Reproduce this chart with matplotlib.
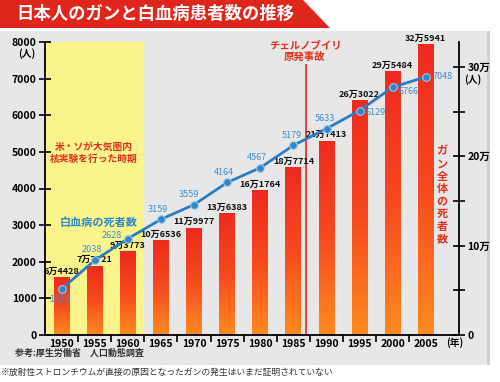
import numpy as np
import matplotlib
matplotlib.use('Agg')
import matplotlib.pyplot as plt
from matplotlib.patches import Rectangle, Polygon
from matplotlib.colors import LinearSegmentedColormap

plt.rcParams['font.family'] = ['Noto Sans CJK JP', 'DejaVu Sans']
plt.rcParams['font.weight'] = 'bold'

years = ['1950', '1955', '1960', '1965', '1970', '1975', '1980', '1985',
         '1990', '1995', '2000', '2005']
cancer_deaths = [64428, 77721, 93773, 106536, 119977, 136383, 161764, 187714,
                 217413, 263022, 295484, 325941]
cancer_labels = ['6万4428', '7万7721', '9万3773', '10万6536', '11万9977', '13万6383',
                 '16万1764', '18万7714', '21万7413', '26万3022', '29万5484', '32万5941']
leukemia_deaths = [1255, 2038, 2628, 3159, 3559, 4164, 4567, 5179, 5633, 6129, 6766, 7048]
left_ticks = [0, 1000, 2000, 3000, 4000, 5000, 6000, 7000, 8000]
right_ticks = [0, 100000, 200000, 300000]
right_minor = [50000, 150000, 250000]
right_tick_labels = ['0', '10万', '20万', '30万']

W, H = 500, 382
fig = plt.figure(figsize=(5, 3.82), dpi=100)
fig.patch.set_facecolor('white')


def fx(x):
    return x / W


def fy(y):
    return 1 - y / H


# gray panel and banner
fig.patches.append(Rectangle((0, fy(365)), fx(489), fy(31) - fy(365), transform=fig.transFigure,
                             facecolor='#e7e7e7', edgecolor='none', zorder=-2))
fig.patches.append(Rectangle((fx(487), fy(365)), fx(3), fy(31) - fy(365), transform=fig.transFigure,
                             facecolor='#cfcfcf', edgecolor='none', zorder=-2))
fig.patches.append(Polygon([(0, fy(0)), (fx(303), fy(0)), (fx(330), fy(28)), (0, fy(28))],
                           closed=True, transform=fig.transFigure, facecolor='#df261c',
                           edgecolor='none', zorder=-1))
fig.text(fx(16), fy(14), '日本人のガンと白血病患者数の推移', color='white', fontsize=12.5,
         fontweight='bold', va='center', ha='left')

ax = fig.add_axes([fx(45), fy(335), fx(459) - fx(45), fy(42) - fy(335)])
ax.set_facecolor('none')
axL = ax.twinx()
axL.set_facecolor('none')
x = np.arange(len(years))

ax.axvspan(-0.5, 2.5, color='#fbf48c', zorder=0, lw=0)

cmap = LinearSegmentedColormap.from_list('g', ['#ff8a20', '#f64a1e', '#ee2a1e'])
grad = np.linspace(0, 1, 128).reshape(-1, 1)
bars = ax.bar(x, cancer_deaths, width=0.48, color='none', zorder=2, lw=0)
for b in bars:
    x0 = b.get_x()
    im = ax.imshow(grad, extent=[x0, x0 + b.get_width(), 0, b.get_height()], origin='lower',
                   aspect='auto', cmap=cmap, zorder=2)
    im.set_clip_path(b)
for i, (v, lbl) in enumerate(zip(cancer_deaths, cancer_labels)):
    ax.annotate(lbl, (i, v), xytext=(0, 1), textcoords='offset points', ha='center', va='bottom',
                fontsize=6.5, color='#111111', zorder=6)

ax.axvline(7.38, ymin=0, ymax=0.92, color='#e5322a', lw=1.3, zorder=1.5)

ax.set_xlim(-0.5, 12.0)
ax.set_ylim(0, 328000)
ax.yaxis.set_ticks_position('right')
ax.yaxis.set_label_position('right')
ax.set_yticks(right_ticks, labels=right_tick_labels)
ax.set_yticks(right_minor, minor=True)
ax.tick_params(axis='y', which='both', direction='inout', length=8, width=1.2, labelsize=7.5, pad=2,
               left=False, labelleft=False, right=True, labelright=True)
ax.set_xticks(x, labels=years)
ax.set_xticks(np.arange(0.5, 11, 1), minor=True)
ax.tick_params(axis='x', which='major', length=0, pad=3, labelsize=7.5)
ax.tick_params(axis='x', which='minor', direction='out', length=5, width=1.2)
ax.spines['top'].set_visible(False)
ax.spines['left'].set_visible(False)
for s in ('bottom', 'right'):
    ax.spines[s].set_linewidth(1.3)

axL.yaxis.set_ticks_position('left')
axL.yaxis.set_label_position('left')
axL.set_ylim(0, 8000)
axL.set_yticks(left_ticks)
axL.tick_params(axis='y', direction='inout', length=8, width=1.2, labelsize=7.5, pad=2,
                left=True, labelleft=True, right=False, labelright=False)
for s in ('top', 'right', 'bottom'):
    axL.spines[s].set_visible(False)
axL.spines['left'].set_visible(True)
axL.spines['left'].set_linewidth(1.3)

axL.plot(x, leukemia_deaths, color='#2c7cc4', lw=2, marker='o', ms=5.5, mfc='#2f86cc',
         mec='#9cc8ea', mew=0.8, zorder=5)
offsets = [(-2, -10, 'center'), (-3, 11, 'center'), (-6, 3, 'right'), (-3, 10, 'center'),
           (-5, 10, 'center'), (-3, 10, 'center'), (-3, 10, 'center'), (-2, 10, 'center'),
           (-2, 10, 'center'), (6, -2, 'left'), (6, -4, 'left'), (7, 0, 'left')]
for i, (v, (dx, dy, ha)) in enumerate(zip(leukemia_deaths, offsets)):
    axL.annotate(str(v), (i, v), xytext=(dx, dy), textcoords='offset pixels', ha=ha, va='center',
                 fontsize=6.5, color='#3a8fd0', fontweight='normal', zorder=6)

red = '#e5301c'
fig.text(fx(27), fy(54), '(人)', ha='center', va='center', fontsize=7)
fig.text(fx(473), fy(80), '(人)', ha='center', va='center', fontsize=7)
fig.text(fx(455), fy(343), '(年)', ha='center', va='center', fontsize=7)
fig.text(fx(94), fy(153), '米・ソが大気圏内\n核実験を行った時期', ha='center', va='center',
         fontsize=7, color=red, linespacing=1.3)
fig.text(fx(99), fy(222), '白血病の死者数', ha='center', va='center', fontsize=8, color='#2b8ac6')
fig.text(fx(305), fy(51), 'チェルノブイリ\n原発事故', ha='center', va='center', fontsize=7.5,
         color=red, linespacing=1.2)
fig.text(fx(442), fy(195), '\n'.join('ガン全体の死者数'), ha='center', va='center', fontsize=8,
         color=red, linespacing=0.95)
fig.text(fx(15), fy(353), '参考:厚生労働省　人口動態調査', ha='left', va='center', fontsize=6.5,
         color='#333333')
fig.text(fx(1), fy(372), '※放射性ストロンチウムが直接の原因となったガンの発生はいまだ証明されていない',
         ha='left', va='center', fontsize=6.3, color='#333333', fontweight='normal')

fig.savefig('out.png', dpi=100)
